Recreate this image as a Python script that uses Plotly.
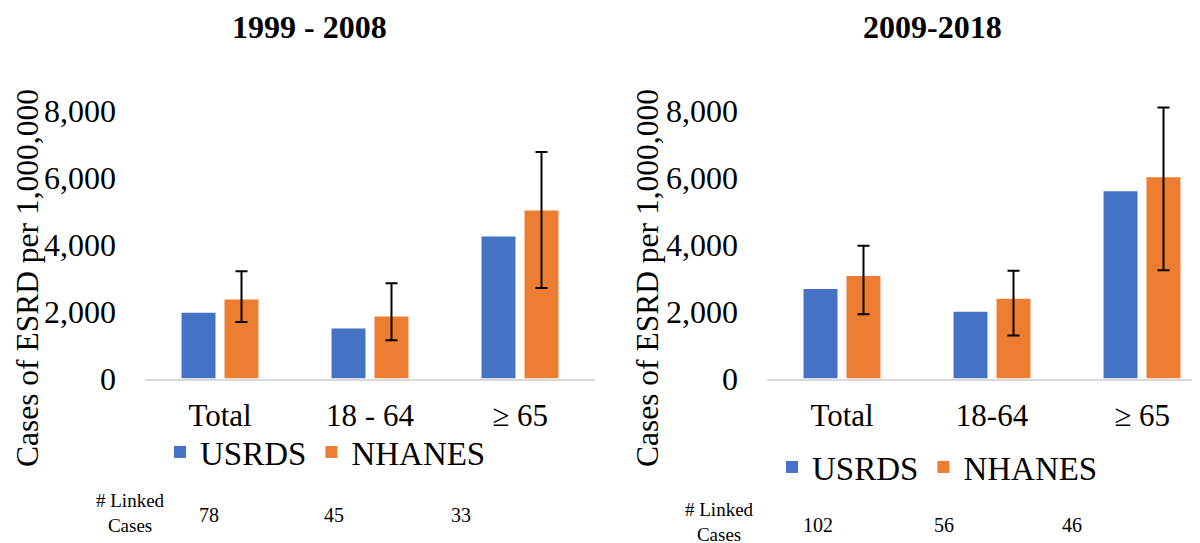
import plotly.graph_objects as go

# ---- data ----
categories_left = ["Total", "18 - 64", "\u2265 65"]
categories_right = ["Total", "18-64", "\u2265 65"]

usrds_1999 = [1960, 1490, 4240]
nhanes_1999 = [2360, 1850, 5015]
nhanes_1999_upper = [3200, 2840, 6760]
nhanes_1999_lower = [1690, 1140, 2705]

usrds_2009 = [2670, 1990, 5590]
nhanes_2009 = [3060, 2380, 6010]
nhanes_2009_upper = [3960, 3215, 8090]
nhanes_2009_lower = [1920, 1285, 3235]

linked_1999 = ["78", "45", "33"]
linked_2009 = ["102", "56", "46"]

titles = ["1999 - 2008", "2009-2018"]
series_names = ["USRDS", "NHANES"]
y_title = "Cases of ESRD per 1,000,000"
y_ticks = [0, 2000, 4000, 6000, 8000]

# ---- style ----
W, H = 1200, 543
OFF = 8  # page body margin
BLUE = "#4472C4"
ORANGE = "#ED7D31"
FONT = "Liberation Serif, Times New Roman, serif"


def px_x(p):
    return (p - OFF) / W


def px_y(p):
    return (H - (p - OFF)) / H


fig = go.Figure()


def add_panel(cats, usrds, nhanes, up, lo, xa, ya, legend):
    fig.add_trace(go.Bar(
        x=cats, y=usrds, name=series_names[0], marker_color=BLUE,
        xaxis=xa, yaxis=ya, legend=legend, offsetgroup="a",
        marker_line_width=0,
    ))
    fig.add_trace(go.Bar(
        x=cats, y=nhanes, name=series_names[1], marker_color=ORANGE,
        xaxis=xa, yaxis=ya, legend=legend, offsetgroup="b",
        marker_line_width=0,
        error_y=dict(
            type="data", symmetric=False,
            array=[u - v for u, v in zip(up, nhanes)],
            arrayminus=[v - l for v, l in zip(nhanes, lo)],
            color="black", thickness=2, width=6,
        ),
    ))


add_panel(categories_left, usrds_1999, nhanes_1999, nhanes_1999_upper,
          nhanes_1999_lower, "x", "y", "legend")
add_panel(categories_right, usrds_2009, nhanes_2009, nhanes_2009_upper,
          nhanes_2009_lower, "x2", "y2", "legend2")

x_common = dict(
    type="category", showgrid=False, showline=True, linecolor="#D9D9D9",
    linewidth=2, ticks="", zeroline=False,
    tickfont=dict(family=FONT, size=31, color="black"),
    ticklabelstandoff=8,
)
y_common = dict(
    range=[0, 9000], showgrid=False, showline=False, zeroline=False,
    tickvals=y_ticks, tickformat=",", ticks="",
    tickfont=dict(family=FONT, size=32, color="black"),
    ticklabelstandoff=28,
    domain=[px_y(378.5), px_y(77)],
)

legend_common = dict(
    orientation="h", xanchor="left", yanchor="middle",
    font=dict(family=FONT, size=33, color="black"),
    itemwidth=30, bgcolor="rgba(0,0,0,0)", traceorder="normal",
)

right_end = OFF + W  # screen pixel where the figure ends
fig.update_layout(
    width=W, height=H,
    margin=dict(l=0, r=0, t=0, b=0, autoexpand=False),
    paper_bgcolor="white", plot_bgcolor="white",
    font=dict(family=FONT),
    barmode="group", bargap=0.4267, bargroupgap=0.21,
    xaxis=dict(**x_common, domain=[px_x(145), px_x(595)], range=[-0.5, 2.5], anchor="y"),
    yaxis=dict(**y_common, anchor="x"),
    xaxis2=dict(**x_common, domain=[px_x(767), 1.0],
                range=[-0.5, (right_end - 767) / 150 - 0.5], anchor="y2"),
    yaxis2=dict(**y_common, anchor="x2"),
    legend=dict(**legend_common, x=px_x(160), y=px_y(452)),
    legend2=dict(**legend_common, x=px_x(772), y=px_y(467)),
    showlegend=True,
)

annotations = []
# titles
for text, cx in zip(titles, [309, 932]):
    annotations.append(dict(
        text=f"<b>{text}</b>", x=px_x(cx), y=px_y(27), xref="paper", yref="paper",
        showarrow=False, xanchor="center", yanchor="middle",
        font=dict(family=FONT, size=32, color="black"),
    ))
# y titles
for cx in [27, 647]:
    annotations.append(dict(
        text=y_title, x=px_x(cx), y=px_y(278), xref="paper", yref="paper",
        showarrow=False, textangle=-90, xanchor="center", yanchor="middle",
        font=dict(family=FONT, size=31.5, color="black"),
    ))
# linked cases labels
for cx, cy in [(131, 513), (719, 522)]:
    annotations.append(dict(
        text="# Linked<br>Cases", x=px_x(cx), y=px_y(cy), xref="paper", yref="paper",
        showarrow=False, xanchor="center", yanchor="middle", align="center",
        font=dict(family=FONT, size=19, color="black"),
    ))
for vals, xs, cy in [(linked_1999, [209, 334, 461], 515),
                     (linked_2009, [818, 944, 1072], 525)]:
    for v, cx in zip(vals, xs):
        annotations.append(dict(
            text=v, x=px_x(cx), y=px_y(cy), xref="paper", yref="paper",
            showarrow=False, xanchor="center", yanchor="middle",
            font=dict(family=FONT, size=20, color="black"),
        ))
fig.update_layout(annotations=annotations)

fig.write_html("out.html")
